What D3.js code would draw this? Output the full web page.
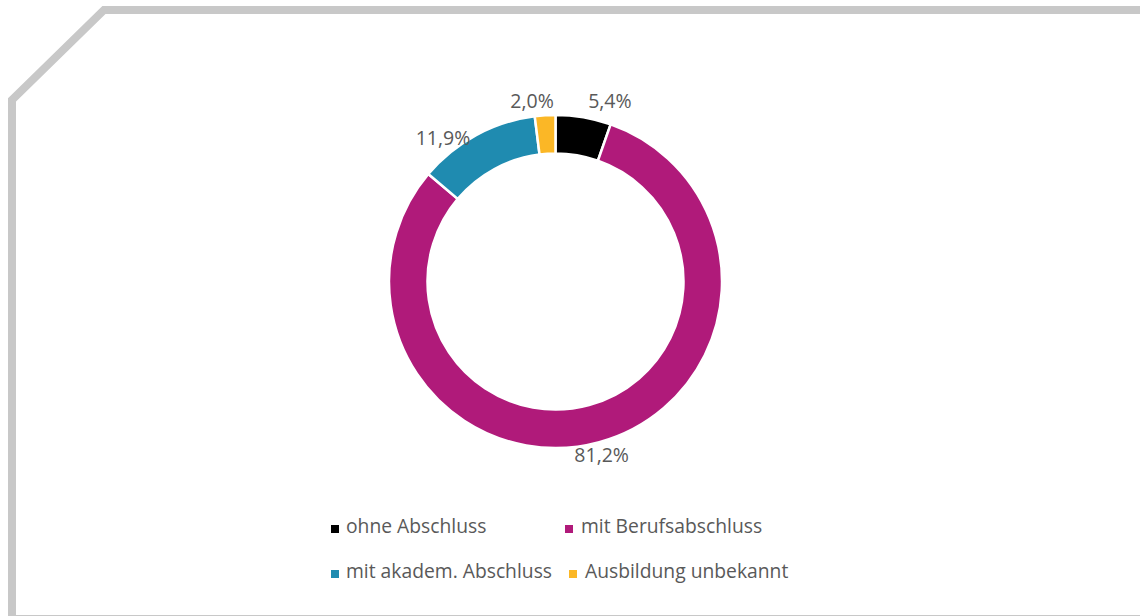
<!DOCTYPE html>
<html><head><meta charset="utf-8">
<script src="https://cdn.jsdelivr.net/npm/d3@7"></script>
<style>html,body{margin:0;padding:0;background:#fff;}svg{display:block;}</style>
</head><body>
<svg id="c" width="1140" height="616"></svg>
<script>
const categories = ["ohne Abschluss", "mit Berufsabschluss", "mit akadem. Abschluss", "Ausbildung unbekannt"];
const values = [5.4, 81.2, 11.9, 2.0];
const valueLabels = ["5,4%", "81,2%", "11,9%", "2,0%"];
const colors = ["#000000", "#b01a7a", "#1f8bb0", "#fbb726"];

const svg = d3.select("#c");
const FONT = "'Open Sans', sans-serif";
const TXT = "#595959";

// frame
svg.append("path")
  .attr("d", "M12,620 L12,100 L104,10 L1150,10")
  .attr("fill", "none").attr("stroke", "#c8c8c8").attr("stroke-width", 8)
  .attr("stroke-linejoin", "miter");
svg.append("line").attr("x1", 12).attr("x2", 1140).attr("y1", 615.5).attr("y2", 615.5)
  .attr("stroke", "#c8c8c8").attr("stroke-width", 1);

const cx = 555.5, cy = 281.5, R = 166.5, r0 = 128;
const g = svg.append("g").attr("transform", `translate(${cx},${cy})`);

const pie = d3.pie().sort(null).value(d => d)(values);
const arc = d3.arc().innerRadius(r0).outerRadius(R);
g.selectAll("path.s").data(pie).join("path")
  .attr("class", "s")
  .attr("d", arc)
  .attr("fill", (d, i) => colors[i])
  .attr("stroke", "#fff").attr("stroke-width", 2.5).attr("stroke-linejoin", "miter");

// data labels
const labelArc = d3.arc().innerRadius(172).outerRadius(172);
const nudge = [[25.5, -4], [1, 14.5], [-30.5, 14.5], [-12.7, -1.8]];
g.selectAll("text.v").data(pie).join("text")
  .attr("class", "v")
  .attr("x", (d, i) => labelArc.centroid(d)[0] + nudge[i][0])
  .attr("y", (d, i) => labelArc.centroid(d)[1] + nudge[i][1])
  .attr("text-anchor", "middle")
  .attr("font-family", FONT).attr("font-size", 19.5).attr("fill", TXT)
  .text((d, i) => valueLabels[i]);

// legend
const legX = [331, 565, 331, 569];
const legY = [533, 533, 578, 578];
const leg = svg.selectAll("g.l").data(categories).join("g").attr("class", "l")
  .attr("transform", (d, i) => `translate(${legX[i]},${legY[i]})`);
leg.append("rect").attr("x", 0).attr("y", -8).attr("width", 8).attr("height", 8)
  .attr("fill", (d, i) => colors[i]);
leg.append("text").attr("x", (d, i) => i === 0 || i === 2 ? 15 : 16).attr("y", 0)
  .attr("font-family", FONT).attr("font-size", 19.3).attr("fill", TXT)
  .text(d => d);
</script>
</body></html>
